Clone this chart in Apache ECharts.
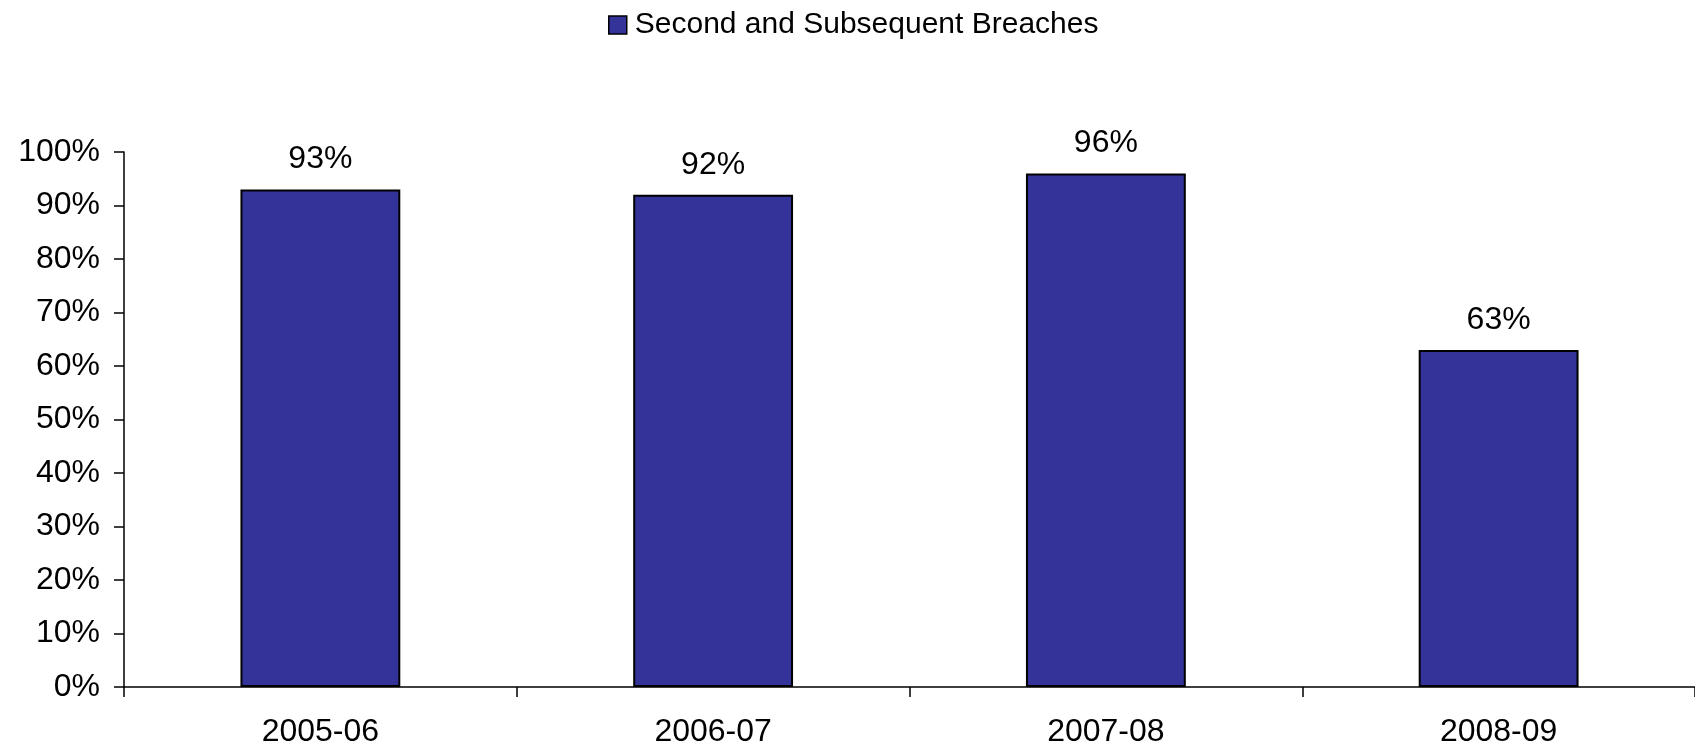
<!DOCTYPE html>
<html><head><meta charset="utf-8">
<script src="https://cdn.jsdelivr.net/npm/echarts@6/dist/echarts.min.js"></script>
<style>html,body{margin:0;padding:0;background:#fff}#c{width:1695px;height:752px}</style>
</head><body><div id="c"></div>
<script>
const categories = ['2005-06', '2006-07', '2007-08', '2008-09'];
const seriesName = 'Second and Subsequent Breaches';
const values = [93, 92, 96, 63];
const yTicks = [0, 10, 20, 30, 40, 50, 60, 70, 80, 90, 100];

const chart = echarts.init(document.getElementById('c'), null, {renderer: 'canvas'});
const font = 'Liberation Sans, Arial, sans-serif';
chart.setOption({
  animation: false,
  backgroundColor: '#fff',
  legend: {
    top: 5, left: 603,
    itemWidth: 18, itemHeight: 18, itemGap: 10,
    textStyle: {fontFamily: font, fontSize: 30, color: '#000', padding: [0, 0, 0, 3]},
    data: [{name: seriesName, icon: 'rect', itemStyle: {borderColor: '#000', borderWidth: 1.5}}]
  },
  grid: {left: 124, right: 0, top: 152, bottom: 65, containLabel: false},
  xAxis: {
    type: 'category', data: categories, boundaryGap: true,
    axisLine: {lineStyle: {color: '#000', width: 1.5}},
    axisTick: {show: true, length: 10, lineStyle: {color: '#000', width: 1.5}},
    axisLabel: {fontFamily: font, fontSize: 32, color: '#000', margin: 29}
  },
  yAxis: {
    type: 'value', min: 0, max: 100, interval: 10,
    axisLine: {show: true, lineStyle: {color: '#000', width: 1.5}},
    axisTick: {show: true, length: 10, lineStyle: {color: '#000', width: 1.5}},
    splitLine: {show: false},
    axisLabel: {fontFamily: font, fontSize: 32, color: '#000', margin: 24,
      formatter: v => yTicks.includes(v) ? v + '%' : ''}
  },
  series: [{
    name: seriesName, type: 'bar', data: values, barWidth: '40.7%',
    itemStyle: {color: '#333399', borderColor: '#000', borderWidth: 2},
    label: {show: true, position: 'top', distance: 14, formatter: p => p.value + '%',
      fontFamily: font, fontSize: 32, color: '#000'}
  }]
});
</script></body></html>
